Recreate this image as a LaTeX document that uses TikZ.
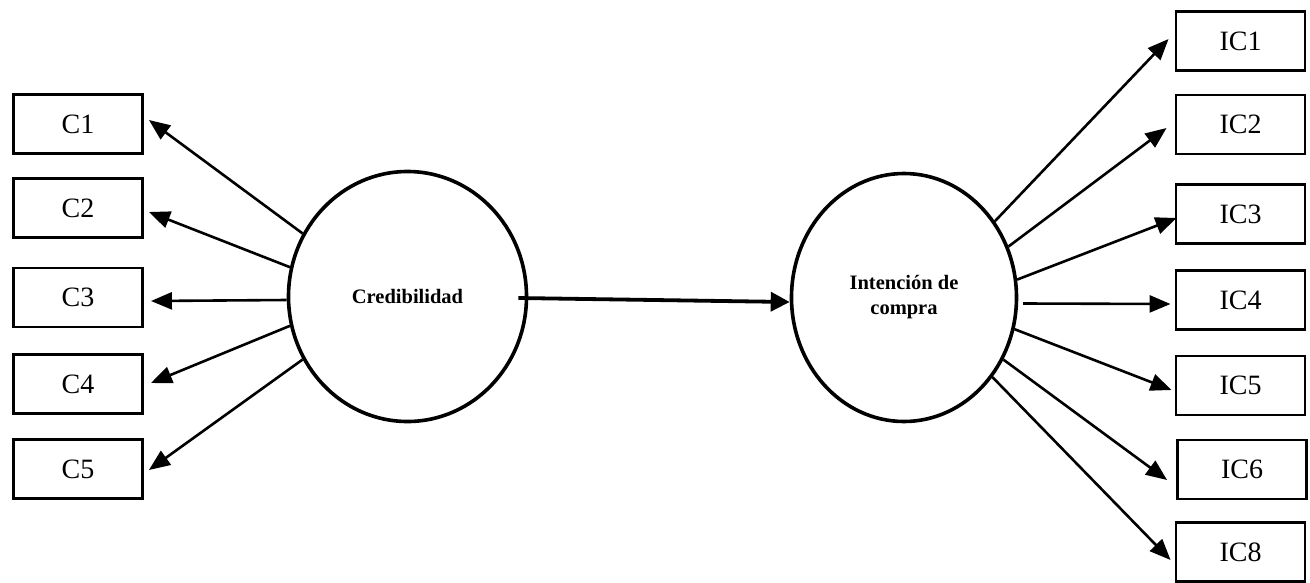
\documentclass[tikz,border=0pt]{standalone}
\usepackage{fontspec}
\setmainfont{Liberation Serif}
\usetikzlibrary{arrows.meta,shapes.geometric}

\tikzset{
  indicator/.style={draw, line width=2.9pt, minimum width=129pt, minimum height=59pt,
                    inner sep=0pt, font=\fontsize{28}{30}\selectfont},
  construct/.style={draw, ellipse, line width=3.6pt, inner sep=0pt, align=center,
                    font=\bfseries\fontsize{20.5}{25}\selectfont},
  load/.style={line width=2.6pt, -{Triangle[length=21pt,width=17pt]}},
  mainpath/.style={line width=3.8pt, -{Triangle[length=19pt,width=19pt]}}
}

\begin{document}
\begin{tikzpicture}[x=1pt, y=-1pt]
  \useasboundingbox (0,0) rectangle (1310,582);

  % latent constructs
  \node[construct, minimum width=238pt, minimum height=250pt] (cred) at (407.5,296.5) {Credibilidad};
  \node[construct, minimum width=225pt, minimum height=248pt] (int) at (904,297.5) {Intención de\\compra};

  % indicators of Credibilidad
  \node[indicator] (C1) at (78,124)   {C1};
  \node[indicator] (C2) at (78,208)   {C2};
  \node[indicator] (C3) at (78,297.5) {C3};
  \node[indicator] (C4) at (78,384)   {C4};
  \node[indicator] (C5) at (78,469)   {C5};

  % indicators of Intención de compra
  \node[indicator] (IC1) at (1240.5,41)    {IC1};
  \node[indicator] (IC2) at (1240.5,124.5) {IC2};
  \node[indicator] (IC3) at (1240.5,214)   {IC3};
  \node[indicator] (IC4) at (1240.5,300)   {IC4};
  \node[indicator] (IC5) at (1240.5,385.5) {IC5};
  \node[indicator] (IC6) at (1242,469.5)   {IC6};
  \node[indicator] (IC8) at (1240.5,552)   {IC8};

  % loadings of Credibilidad
  \draw[load] (cred.149) -- ([shift={(5pt,4pt)}]C1.east);
  \draw[load] (cred.166) -- ([shift={(5pt,-4pt)}]C2.east);
  \draw[load] ([yshift=-3.5pt]cred.west) -- ([shift={(7pt,-3.5pt)}]C3.east);
  \draw[load] (cred.194) -- ([shift={(7pt,1pt)}]C4.east);
  \draw[load] (cred.211) -- ([shift={(5pt,-1pt)}]C5.east);

  % loadings of Intención de compra
  \draw[load] (int.40)  -- ([shift={(-6pt,2pt)}]IC1.west);
  \draw[load] (int.26)  -- ([shift={(-8pt,-3.5pt)}]IC2.west);
  \draw[load] (int.9)   -- ([shift={(2pt,-4pt)}]IC3.west);
  \draw[load, shorten <=5pt] (int.-3) -- ([shift={(-4pt,-4pt)}]IC4.west);
  \draw[load] (int.-16) -- ([shift={(-3pt,-4.5pt)}]IC5.west);
  \draw[load] (int.-32) -- ([shift={(-9pt,-10.5pt)}]IC6.west);
  \draw[load] (int.-42.5) -- ([shift={(-4pt,-8pt)}]IC8.west);

  % structural path
  \draw[mainpath] ([shift={(-10pt,-1.5pt)}]cred.east) -- ([yshift=-4.5pt]int.west);
\end{tikzpicture}
\end{document}
